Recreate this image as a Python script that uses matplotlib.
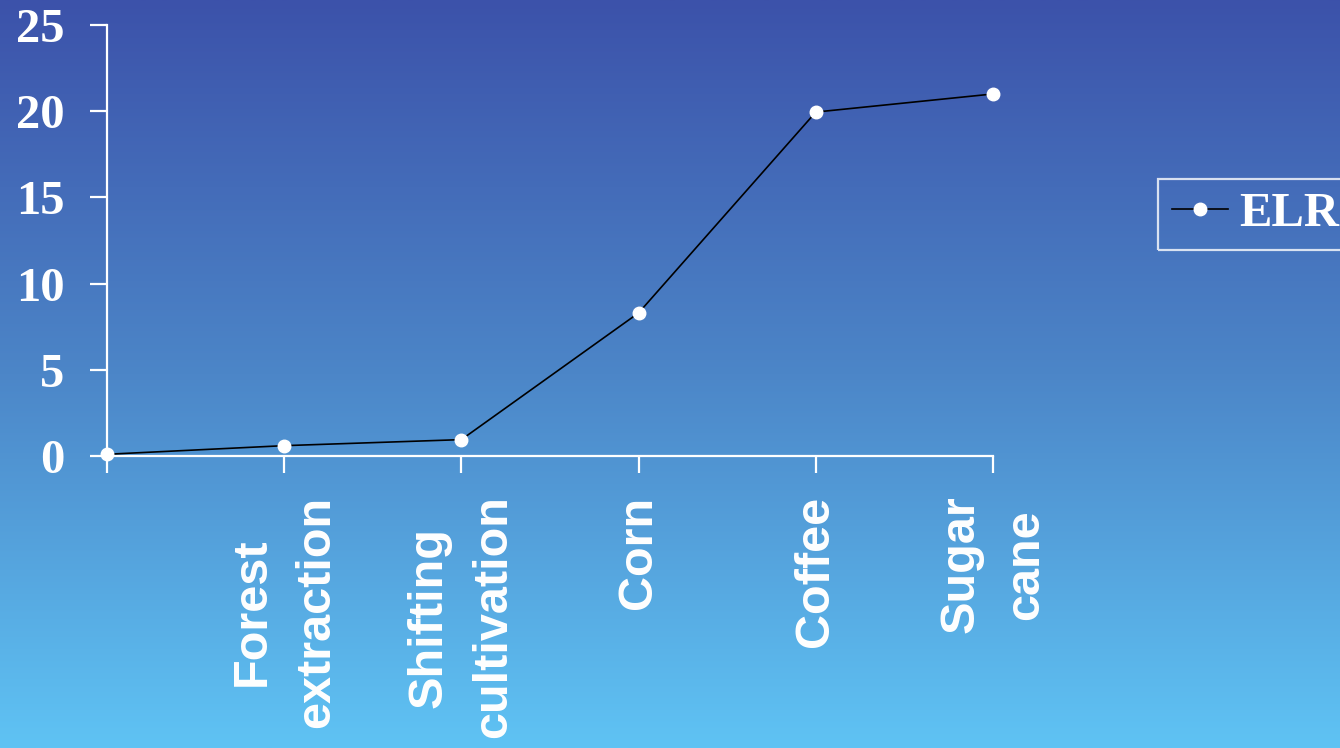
import numpy as np
import matplotlib
matplotlib.use("Agg")
import matplotlib.pyplot as plt
from matplotlib.colors import LinearSegmentedColormap

categories = ["", "Forest\nextraction", "Shifting\ncultivation", "Corn", "Coffee", "Sugar\ncane"]
elr_values = [0.1, 0.6, 0.95, 8.3, 19.95, 21.0]
y_ticks = [0, 5, 10, 15, 20, 25]
series_name = "ELR"

W, H, DPI = 1340, 748, 100
fig = plt.figure(figsize=(W / DPI, H / DPI), dpi=DPI)

# vertical blue gradient backdrop
bg = fig.add_axes([0, 0, 1, 1], zorder=-10)
grad = np.linspace(0, 1, 256).reshape(-1, 1)
cmap = LinearSegmentedColormap.from_list(
    "bg", ["#3c52aa", "#4c86c8", "#5fc3f4"])
bg.imshow(grad, aspect="auto", cmap=cmap, extent=[0, 1, 0, 1], origin="upper")
bg.set_axis_off()

ax = fig.add_axes([107 / W, 1 - 456 / H, 886 / W, 431 / H])
ax.patch.set_alpha(0)

x = np.arange(len(categories))
ax.plot(x, elr_values, color="black", lw=1.2, marker="o", ms=9,
        markerfacecolor="white", markeredgecolor="white", label=series_name,
        clip_on=False, zorder=5)

ax.set_xlim(0, len(categories) - 1)
ax.set_ylim(0, 25)
ax.set_yticks(y_ticks)
ax.set_xticks(x)
ax.set_xticklabels(categories, rotation=90, ha="center", va="top",
                   multialignment="center", linespacing=1.55,
                   fontsize=35, fontweight="bold", color="white",
                   family="Liberation Sans")
ax.set_yticklabels([str(v) for v in y_ticks], fontsize=35, fontweight="bold",
                   color="white", family="Liberation Serif")

for s in ["top", "right"]:
    ax.spines[s].set_visible(False)
for s in ["left", "bottom"]:
    ax.spines[s].set_color("white")
    ax.spines[s].set_linewidth(1.6)

ax.tick_params(axis="both", direction="out", length=12.5, width=1.6,
               color="white")
ax.tick_params(axis="y", pad=18)
ax.tick_params(axis="x", pad=16)

leg = fig.legend(loc="lower left", bbox_to_anchor=(1158 / W, 1 - 250 / H),
                 borderaxespad=0, frameon=True, fancybox=False, borderpad=0.28,
                 handlelength=1.15, handletextpad=0.25,
                 prop={"family": "Liberation Serif", "weight": "bold", "size": 35})
leg.get_frame().set_facecolor("none")
leg.get_frame().set_edgecolor("white")
leg.get_frame().set_linewidth(1.6)
for t in leg.get_texts():
    t.set_color("white")

fig.savefig("out.png", dpi=DPI)
